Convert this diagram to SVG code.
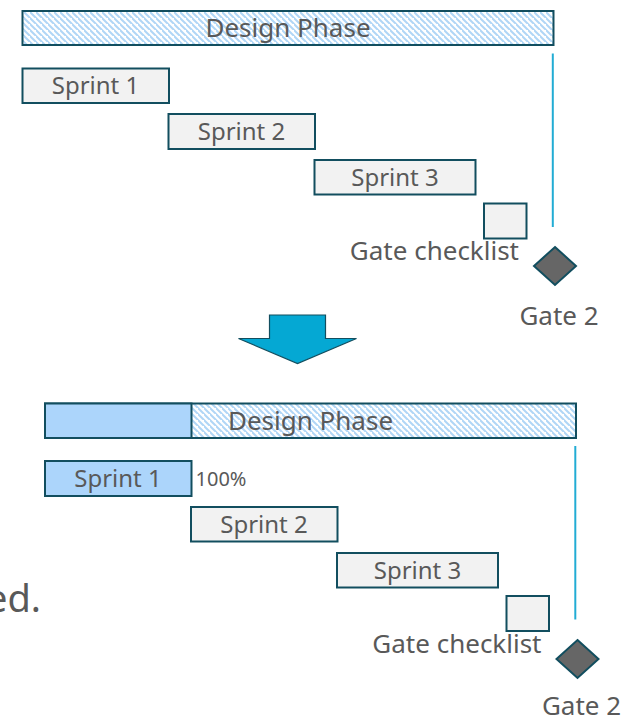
<svg xmlns="http://www.w3.org/2000/svg" width="633" height="719" viewBox="0 0 633 719">
  <defs>
    <pattern id="hatch" patternUnits="userSpaceOnUse" width="6" height="6">
      <rect width="6" height="6" fill="#ffffff"/>
      <path d="M-1,-1 L7,7 M-4,2 L2,8 M4,-4 L10,2" stroke="#b0d6f6" stroke-width="2"/>
    </pattern>
    <style>
      .box { fill: #f2f2f2; stroke: #124e5f; stroke-width: 2; }
      .done { fill: #acd5fb; stroke: #124e5f; stroke-width: 2; }
      .phase { fill: url(#hatch); stroke: #124e5f; stroke-width: 2; }
      .lbl { font-family: "Noto Sans", "Open Sans", "Liberation Sans", sans-serif; fill: #595959; font-size: 24px; }
      .big { font-size: 26px; }
      .mid { text-anchor: middle; }
      .end { text-anchor: end; }
      .small { font-size: 20px; }
      .deadline { stroke: #22acd4; stroke-width: 2; fill: none; }
      .gate { fill: #666666; stroke: #124e5f; stroke-width: 2; }
    </style>
  </defs>
  <rect width="633" height="719" fill="#ffffff"/>

  <!-- partial text at left edge (clipped in the reference) -->
  <text id="fragment" class="lbl" x="-14" y="612" style="font-size:38px">ed.</text>

  <!-- BEFORE -->
  <g id="before">
    <g id="phase1">
      <rect class="phase" x="22.5" y="11" width="531" height="34"/>
      <text class="lbl big mid" x="288" y="37">Design Phase</text>
    </g>
    <g id="sprint1a">
      <rect class="box" x="22.5" y="68.5" width="146.5" height="34.5"/>
      <text class="lbl mid" x="95.5" y="94">Sprint 1</text>
    </g>
    <g id="sprint2a">
      <rect class="box" x="168.5" y="114" width="146.5" height="35"/>
      <text class="lbl mid" x="241.5" y="140">Sprint 2</text>
    </g>
    <g id="sprint3a">
      <rect class="box" x="314.5" y="160" width="161" height="34.5"/>
      <text class="lbl mid" x="395" y="186">Sprint 3</text>
    </g>
    <g id="checklista">
      <rect class="box" x="484" y="203.5" width="42.5" height="35"/>
      <text class="lbl big end" x="519" y="260">Gate checklist</text>
    </g>
    <g id="gate2a">
      <polygon class="gate" points="555,247 576,266 555,285 534,266"/>
      <text class="lbl big mid" x="559" y="325">Gate 2</text>
    </g>
  </g>

  <!-- AFTER -->
  <g id="after">
    <g id="phase2">
      <rect class="phase" x="45" y="403.5" width="531" height="34.5"/>
      <rect class="done" x="45" y="403.5" width="146.5" height="34.5"/>
      <text class="lbl big mid" x="310.5" y="430">Design Phase</text>
    </g>
    <g id="sprint1b">
      <rect class="done" x="45" y="461" width="146.5" height="35"/>
      <text class="lbl mid" x="118" y="486.5">Sprint 1</text>
      <text class="lbl small" x="195.5" y="486">100%</text>
    </g>
    <g id="sprint2b">
      <rect class="box" x="191" y="507" width="146.5" height="34.5"/>
      <text class="lbl mid" x="264" y="532.5">Sprint 2</text>
    </g>
    <g id="sprint3b">
      <rect class="box" x="337" y="553" width="161" height="34.5"/>
      <text class="lbl mid" x="417.5" y="578.5">Sprint 3</text>
    </g>
    <g id="checklistb">
      <rect class="box" x="506.5" y="596" width="42.5" height="35"/>
      <text class="lbl big end" x="541.5" y="652.5">Gate checklist</text>
    </g>
    <g id="gate2b">
      <polygon class="gate" points="577.5,640 598.5,659 577.5,678 556.5,659"/>
      <text class="lbl big mid" x="581.5" y="715">Gate 2</text>
    </g>
  </g>

  <!-- connectors -->
  <g id="connectors">
    <line class="deadline" x1="552.8" y1="53.5" x2="552.8" y2="227"/>
    <line class="deadline" x1="575.3" y1="446" x2="575.3" y2="619.5"/>
    <polygon id="transition-arrow" points="269.5,315 325.5,315 325.5,338.5 356.5,338.5 297.5,363.5 238.5,338.5 269.5,338.5" fill="#05a8d3" stroke="#124e5f" stroke-width="1.2"/>
  </g>
</svg>
